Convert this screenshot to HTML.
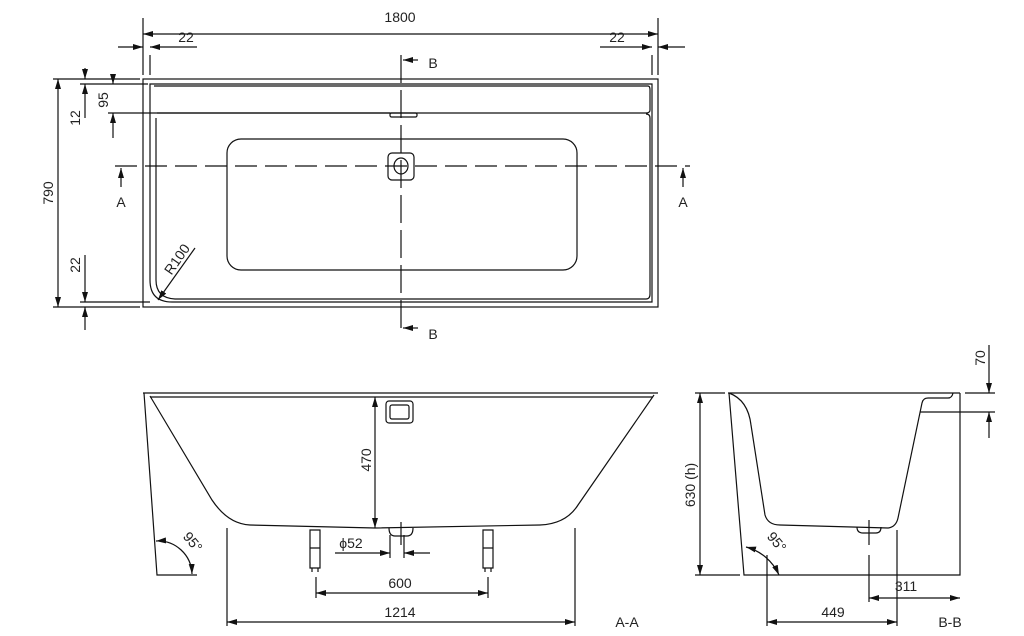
<!DOCTYPE html>
<html><head><meta charset="utf-8"><style>
html,body{margin:0;padding:0;background:#fff;}
svg{display:block;}
text{font-family:"Liberation Sans",sans-serif;font-size:14px;fill:#222;}
</style></head><body>
<svg width="1024" height="636" viewBox="0 0 1024 636" xmlns="http://www.w3.org/2000/svg">
<defs>
<marker id="a" viewBox="0 0 10 6" refX="10" refY="3" markerWidth="10" markerHeight="6" orient="auto-start-reverse" markerUnits="userSpaceOnUse"><path d="M0,0L10,3L0,6z" fill="#111"/></marker>
</defs>
<g fill="none" stroke="#111" stroke-width="1.2">
<!-- TOP VIEW -->
<rect x="143" y="79" width="515" height="228"/>
<path d="M150,84 H652 V302 H172 Q150,302 150,280 Z"/>
<path d="M154,86 H648 Q650,86 650,90 V110 Q650,113 646,113 H157"/>
<path d="M156,118 V280 Q156,298 175,299 H646 Q650,299 650,294 V118 Q650,114 646,114"/>
<rect x="227" y="139" width="350" height="131" rx="14"/>
<rect x="388" y="153" width="26" height="27" rx="4"/>
<ellipse cx="401" cy="166" rx="7" ry="8"/>
<rect x="390" y="113" width="27" height="4" rx="1.5"/>
<path d="M115,166 H690" stroke-dasharray="22,8"/>
<path d="M401,55 V335" stroke-dasharray="28,7"/>
<path d="M143,18 V75 M658,18 V75"/>
<path d="M143,34 H658" marker-start="url(#a)" marker-end="url(#a)"/>
<path d="M150,55 V75"/>
<path d="M118,47 H143" marker-end="url(#a)"/><path d="M150,47 H197" marker-start="url(#a)"/>
<path d="M600,47 H652" marker-end="url(#a)"/><path d="M658,47 H685" marker-start="url(#a)"/>
<path d="M652,55 V75"/>
<path d="M53,79 H140 M53,307 H140"/>
<path d="M58,79 V307" marker-start="url(#a)" marker-end="url(#a)"/>
<path d="M85,68 V79" marker-end="url(#a)"/><path d="M85,84 V118" marker-start="url(#a)"/>
<path d="M80,84 H148"/>
<path d="M113,75 V84" marker-end="url(#a)"/><path d="M113,113 V138" marker-start="url(#a)"/>
<path d="M108,113 H390"/>
<path d="M85,255 V302" marker-end="url(#a)"/><path d="M85,307 V330" marker-start="url(#a)"/>
<path d="M80,302 H150"/>
<path d="M195,248 L158,300" marker-end="url(#a)"/>
<path d="M121,187 V168" marker-end="url(#a)"/><path d="M683,187 V168" marker-end="url(#a)"/>
<path d="M418,60 H403" marker-end="url(#a)"/><path d="M418,328 H403" marker-end="url(#a)"/>

<!-- SECTION A-A -->
<path d="M143,393 H658 M150,397 H653"/>
<path d="M144,393 L157,575 H197"/>
<path d="M150,396 L212,500 Q228,524 250,525 L375,528 L540,525 Q566,524 578,505 L654,395"/>
<path d="M375,397 V528" marker-start="url(#a)" marker-end="url(#a)"/>
<rect x="386" y="401" width="27" height="22" rx="3"/>
<rect x="390" y="405" width="19" height="14" rx="2"/>
<path d="M389,528 Q389,536 395,536 H407 Q413,536 413,528"/>
<path d="M401,522 V545 M390,535 V558 M404,535 V558"/>
<path d="M310,530 H320 V568 H310 Z M310,548 H320 M312,568 V572 M318,568 V572"/>
<path d="M483,530 H493 V568 H483 Z M483,548 H493 M485,568 V572 M491,568 V572"/>
<path d="M335,553 H390" marker-end="url(#a)"/><path d="M404,553 H430" marker-start="url(#a)"/>
<path d="M316,577 V598 M488,577 V598"/>
<path d="M316,593 H488" marker-start="url(#a)" marker-end="url(#a)"/>
<path d="M227,528 V626 M575,528 V626"/>
<path d="M227,622 H575" marker-start="url(#a)" marker-end="url(#a)"/>
<path d="M156,541 A34,34 0 0 1 192,574" marker-start="url(#a)" marker-end="url(#a)"/>

<!-- SECTION B-B -->
<path d="M728,393 H960 M965,393 H995"/>
<path d="M729,393 L744,575 H960 V393"/>
<path d="M729,393 Q748,400 751,425 L765,515 Q768,525 780,525 L888,528 Q896,527 898,518 L922,403 Q923,398 928,398 H948 Q952,398 953,393"/>
<path d="M857,527 Q857,533 863,533 H876 Q881,533 881,527"/>
<path d="M869,520 V545 M869,555 V602"/>
<path d="M897,530 V626 M767,555 V626"/>
<path d="M695,393 H725 M695,575 H740"/>
<path d="M700,393 V575" marker-start="url(#a)" marker-end="url(#a)"/>
<path d="M920,412 H995"/>
<path d="M989,345 V393" marker-end="url(#a)"/><path d="M989,412 V438" marker-start="url(#a)"/>
<path d="M869,598 H960" marker-start="url(#a)" marker-end="url(#a)"/>
<path d="M767,622 H897" marker-start="url(#a)" marker-end="url(#a)"/>
<path d="M746,547 A50,50 0 0 1 779,575" marker-start="url(#a)" marker-end="url(#a)"/>
</g>
<g>
<text x="400" y="22" text-anchor="middle">1800</text>
<text x="186" y="42" text-anchor="middle">22</text>
<text x="617" y="42" text-anchor="middle">22</text>
<text x="433" y="68" text-anchor="middle" font-size="16">B</text>
<text x="433" y="339" text-anchor="middle" font-size="16">B</text>
<text x="121" y="207" text-anchor="middle" font-size="16">A</text>
<text x="683" y="207" text-anchor="middle" font-size="16">A</text>
<text transform="translate(53,193) rotate(-90)" text-anchor="middle">790</text>
<text transform="translate(80,118) rotate(-90)" text-anchor="middle">12</text>
<text transform="translate(108,100) rotate(-90)" text-anchor="middle">95</text>
<text transform="translate(80,265) rotate(-90)" text-anchor="middle">22</text>
<text transform="translate(181,262) rotate(-55)" text-anchor="middle">R100</text>
<text transform="translate(371,460) rotate(-90)" text-anchor="middle">470</text>
<text x="351" y="548" text-anchor="middle">ϕ52</text>
<text x="400" y="588" text-anchor="middle">600</text>
<text x="400" y="617" text-anchor="middle">1214</text>
<text x="627" y="627" text-anchor="middle" font-size="17">A-A</text>
<text transform="translate(189,545) rotate(50)" text-anchor="middle">95°</text>
<text transform="translate(695,485) rotate(-90)" text-anchor="middle">630 (h)</text>
<text transform="translate(985,358) rotate(-90)" text-anchor="middle">70</text>
<text x="906" y="591" text-anchor="middle">311</text>
<text x="833" y="617" text-anchor="middle">449</text>
<text x="950" y="627" text-anchor="middle" font-size="17">B-B</text>
<text transform="translate(773,545) rotate(50)" text-anchor="middle">95°</text>
</g>
</svg>
</body></html>
